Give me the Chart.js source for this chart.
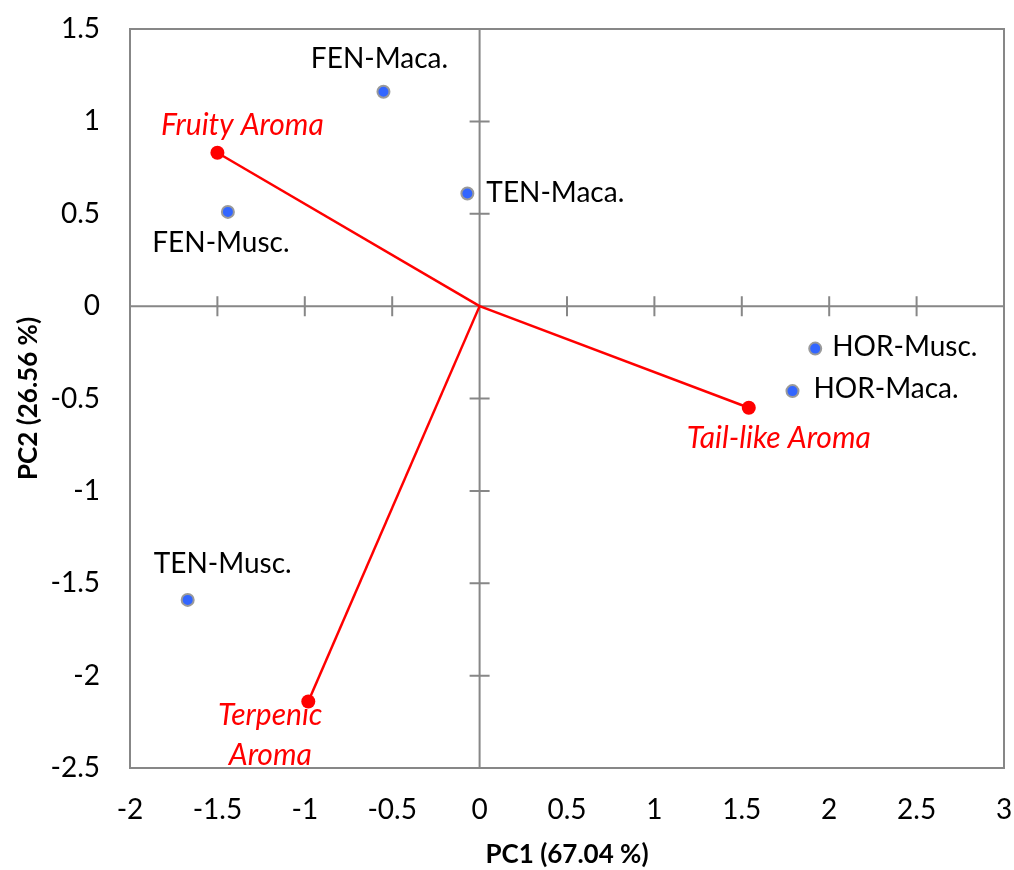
<!DOCTYPE html>
<html>
<head>
<meta charset="utf-8">
<script src="https://cdn.jsdelivr.net/npm/chart.js@4/dist/chart.umd.min.js"></script>
<style>
  body { margin: 0; background: #fff; }
  #wrap { width: 1014px; height: 870px; }
</style>
</head>
<body>
<div id="wrap"><canvas id="chart" width="1014" height="870"></canvas></div>
<script>
const sampleNames = ['FEN-Maca.', 'TEN-Maca.', 'FEN-Musc.', 'HOR-Musc.', 'HOR-Maca.', 'TEN-Musc.'];
const samplePC1 = [-0.55, -0.07, -1.44, 1.92, 1.79, -1.67];
const samplePC2 = [1.16, 0.61, 0.51, -0.23, -0.46, -1.59];

const attrNames = [['Fruity Aroma'], ['Tail-like Aroma'], ['Terpenic', 'Aroma']];
const attrPC1 = [-1.50, 1.54, -0.98];
const attrPC2 = [0.83, -0.55, -2.14];

const xTitle = 'PC1 (67.04 %)';
const yTitle = 'PC2 (26.56 %)';

// where each label sits relative to its point (px offsets to the text baseline)
const sampleSpots = [
  { dx: -4, dy: -24, align: 'center' },
  { dx: 19, dy: 9, align: 'left' },
  { dx: -7, dy: 40, align: 'center' },
  { dx: 17, dy: 7, align: 'left' },
  { dx: 21, dy: 7, align: 'left' },
  { dx: 35, dy: -27, align: 'center' },
];
const attrSpots = [
  { dx: 25, dy: -18, align: 'center' },
  { dx: 30, dy: 40, align: 'center' },
  { dx: -38, dy: 24, align: 'center' },
];

const FONT = 'Lato, "Open Sans", sans-serif';
const GRAY = '#878787';

const vectorSets = attrPC1.map((x, i) => ({
  label: attrNames[i].join(' '),
  data: [{ x: 0, y: 0 }, { x, y: attrPC2[i] }],
  showLine: true,
  borderColor: '#ff0000',
  borderWidth: 2.5,
  backgroundColor: '#ff0000',
  pointRadius: [0, 7],
  pointBorderWidth: 0,
  order: 2,
}));

const sampleSet = {
  label: 'samples',
  data: samplePC1.map((x, i) => ({ x, y: samplePC2[i] })),
  backgroundColor: '#3366ff',
  borderColor: '#9a9a9a',
  borderWidth: 2,
  pointRadius: 6,
  order: 1,
};

const frame = {
  id: 'frame',
  beforeDatasetsDraw(chart) {
    const { ctx, chartArea: a, scales: { x, y } } = chart;
    const x0 = x.getPixelForValue(0);
    const y0 = y.getPixelForValue(0);
    ctx.save();
    ctx.strokeStyle = GRAY;
    ctx.lineWidth = 2;
    ctx.strokeRect(a.left, a.top, a.right - a.left, a.bottom - a.top);
    ctx.beginPath();
    ctx.moveTo(x0, a.top); ctx.lineTo(x0, a.bottom);
    ctx.moveTo(a.left, y0); ctx.lineTo(a.right, y0);
    x.ticks.forEach((t) => {
      const px = x.getPixelForValue(t.value);
      ctx.moveTo(px, y0 - 10); ctx.lineTo(px, y0 + 10);
    });
    y.ticks.forEach((t) => {
      const py = y.getPixelForValue(t.value);
      ctx.moveTo(x0 - 10, py); ctx.lineTo(x0 + 10, py);
    });
    ctx.stroke();
    ctx.restore();
  },
  afterDatasetsDraw(chart) {
    const { ctx, scales: { x, y } } = chart;
    ctx.save();
    ctx.textBaseline = 'alphabetic';
    ctx.fillStyle = '#000';
    ctx.font = `28px ${FONT}`;
    sampleNames.forEach((name, i) => {
      const s = sampleSpots[i];
      ctx.textAlign = s.align;
      ctx.fillText(name, x.getPixelForValue(samplePC1[i]) + s.dx, y.getPixelForValue(samplePC2[i]) + s.dy);
    });
    ctx.fillStyle = '#ff0000';
    ctx.font = `italic 30px ${FONT}`;
    attrNames.forEach((lines, i) => {
      const s = attrSpots[i];
      ctx.textAlign = s.align;
      lines.forEach((ln, k) => {
        ctx.fillText(ln, x.getPixelForValue(attrPC1[i]) + s.dx, y.getPixelForValue(attrPC2[i]) + s.dy + k * 40);
      });
    });
    ctx.restore();
  },
};

const tickText = (v) => String(v);

new Chart(document.getElementById('chart'), {
  type: 'scatter',
  data: { datasets: [sampleSet, ...vectorSets] },
  options: {
    responsive: false,
    animation: false,
    layout: { padding: { top: 29, right: 10, left: 0, bottom: 0 } },
    plugins: { legend: { display: false }, tooltip: { enabled: false } },
    scales: {
      x: {
        type: 'linear',
        min: -2, max: 3,
        ticks: { stepSize: 0.5, color: '#000', font: { family: FONT, size: 28 }, padding: 25, maxRotation: 0, callback: tickText },
        grid: { display: false, drawTicks: false },
        border: { display: false },
        title: { display: true, text: xTitle, color: '#000', font: { family: FONT, size: 26, weight: 'bold' }, padding: 0 },
        afterFit: (s) => { s.height = 102; s.paddingLeft = 0; s.paddingRight = 0; },
      },
      y: {
        type: 'linear',
        min: -2.5, max: 1.5,
        ticks: { stepSize: 0.5, color: '#000', font: { family: FONT, size: 28 }, padding: 30, callback: tickText },
        grid: { display: false, drawTicks: false },
        border: { display: false },
        title: { display: true, text: yTitle, color: '#000', font: { family: FONT, size: 26, weight: 'bold' }, padding: { top: 13 } },
        afterFit: (s) => { s.width = 130; s.paddingTop = 0; s.paddingBottom = 0; },
      },
    },
  },
  plugins: [frame],
});
</script>
</body>
</html>
